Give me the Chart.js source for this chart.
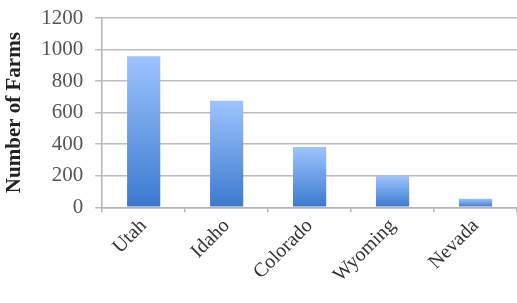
<!DOCTYPE html>
<html>
<head>
<meta charset="utf-8">
<script src="https://cdn.jsdelivr.net/npm/chart.js"></script>
<style>
  html, body { margin: 0; padding: 0; background: #fff; }
  #wrap { width: 517px; height: 303px; }
</style>
</head>
<body>
<div id="wrap"><canvas id="chart"></canvas></div>
<script>
const states = ['Utah', 'Idaho', 'Colorado', 'Wyoming', 'Nevada']
const farms = [958, 675, 383, 199, 55]
const yTicks = [0, 200, 400, 600, 800, 1000, 1200]

// vertical gradient per bar, light at top, darker at base
function barGradient(ctx) {
  const chart = ctx.chart
  const y = chart.scales.y
  if (!y || ctx.dataIndex === undefined) return '#6a9ee6'
  const top = y.getPixelForValue(farms[ctx.dataIndex])
  const base = y.getPixelForValue(0)
  if (!isFinite(top) || !isFinite(base)) return '#6a9ee6'
  const g = chart.ctx.createLinearGradient(0, top, 0, base)
  g.addColorStop(0, '#9dc4fd')
  g.addColorStop(1, '#3b79cf')
  return g
}

const serif = "'Liberation Serif', 'DejaVu Serif', serif"

new Chart(document.getElementById('chart'), {
  type: 'bar',
  data: {
    labels: states,
    datasets: [{
      data: farms,
      backgroundColor: barGradient,
      borderWidth: 0,
      barPercentage: 0.4,
      categoryPercentage: 1
    }]
  },
  options: {
    responsive: true,
    maintainAspectRatio: false,
    animation: false,
    layout: { padding: { top: 0, right: 0, left: 2, bottom: 14 } },
    plugins: { legend: { display: false }, tooltip: { enabled: false } },
    scales: {
      x: {
        offset: true,
        grid: { offset: true, drawOnChartArea: false, tickLength: 5, color: '#b5b5b5', lineWidth: 1.5 },
        border: { color: '#b5b5b5', width: 1.5 },
        ticks: {
          maxRotation: 45,
          minRotation: 45,
          color: '#333',
          padding: 2,
          font: { family: serif, size: 20 }
        }
      },
      y: {
        min: 0,
        max: 1200,
        afterBuildTicks: (axis) => { axis.ticks = yTicks.map(v => ({ value: v })) },
        afterFit: (axis) => { axis.paddingTop = 18 },
        grid: { color: '#bdbdbd', lineWidth: 1.5, tickLength: 7 },
        border: { color: '#b5b5b5', width: 1.5 },
        ticks: {
          color: '#555',
          padding: 12,
          callback: (v) => String(v),
          font: { family: serif, size: 21 }
        },
        title: {
          display: true,
          text: 'Number of Farms',
          color: '#222',
          padding: { top: 0, bottom: 2 },
          font: { family: serif, size: 21, weight: 'bold' }
        }
      }
    }
  }
})
</script>
</body>
</html>
